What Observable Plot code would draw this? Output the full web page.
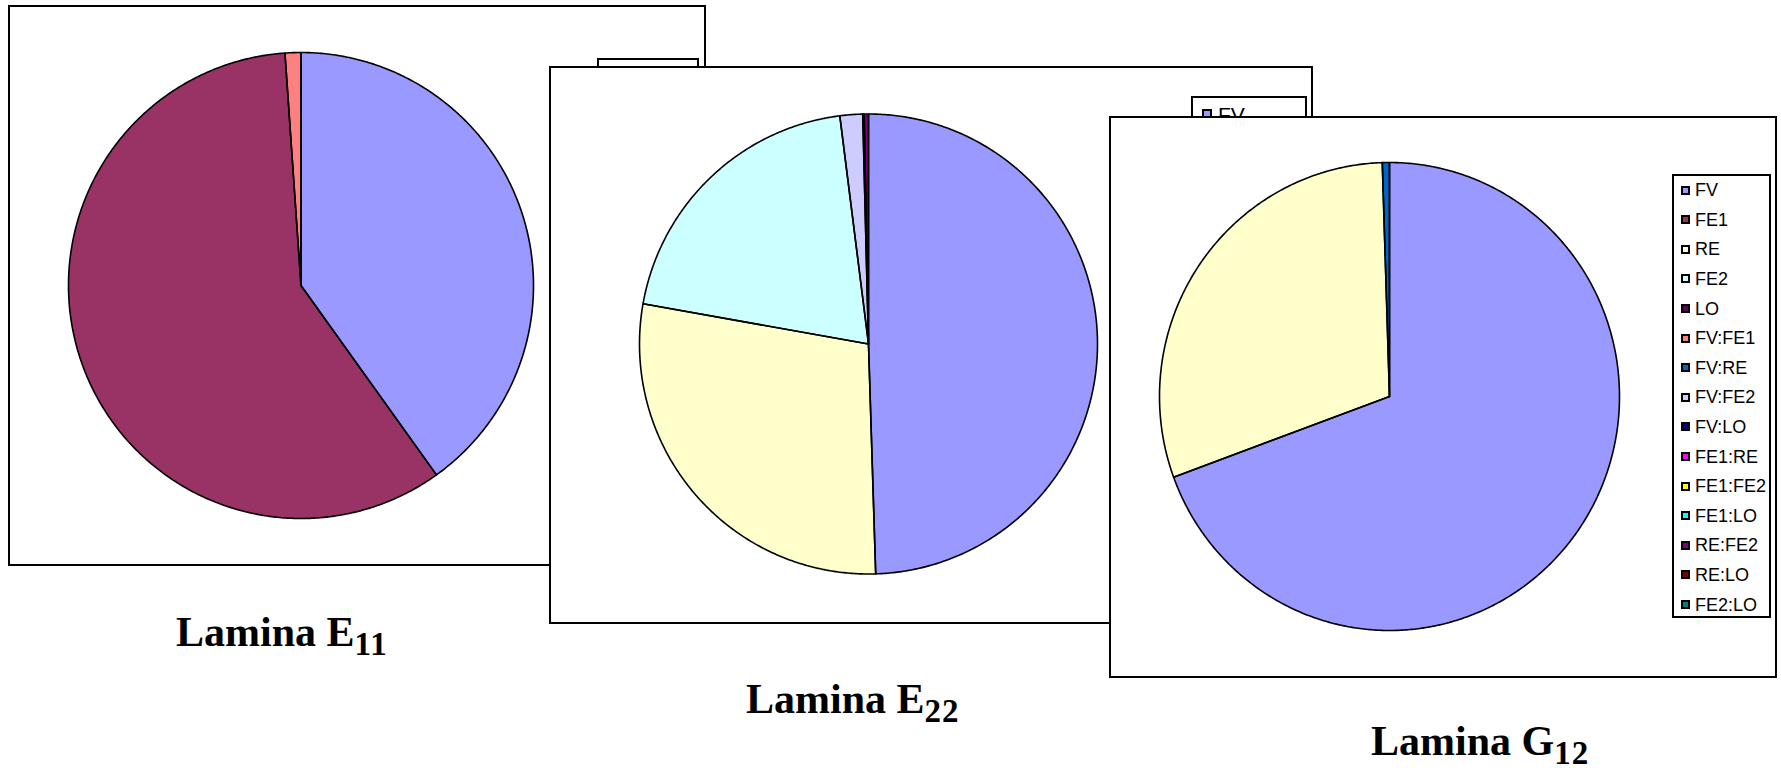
<!DOCTYPE html>
<html>
<head>
<meta charset="utf-8">
<script src="https://cdn.jsdelivr.net/npm/d3@7"></script>
<script src="https://cdn.jsdelivr.net/npm/@observablehq/plot@0.6"></script>
<style>
  html, body { margin: 0; padding: 0; background: #fff; }
  #stage { position: relative; width: 1781px; height: 771px; overflow: hidden; background: #fff; }
  .panel { position: absolute; box-sizing: border-box; border: 2px solid #000; background: #fff; }
  .panel svg { position: absolute; left: 0; top: 0; background: transparent; }
  .legend { position: absolute; box-sizing: border-box; border: 2px solid #000; background: #fff;
            font-family: "Liberation Sans", Arial, sans-serif; color: #000; }
  .legend .sw { position: absolute; box-sizing: border-box; border: 2px solid #000; }
  .legend .lb { position: absolute; white-space: nowrap; line-height: 1; }
  .title { position: absolute; font-family: "Liberation Serif", "Times New Roman", serif; font-weight: bold;
           font-size: 42px; line-height: 42px; white-space: nowrap; color: #000; }
  .title .sub { font-size: 33px; position: relative; top: 9px; letter-spacing: 1px; }
</style>
</head>
<body>
<div id="stage"></div>
<script>
// Categories of the variance decomposition (main effects and two-way interactions)
const categories = ["FV", "FE1", "RE", "FE2", "LO", "FV:FE1", "FV:RE", "FV:FE2", "FV:LO",
                    "FE1:RE", "FE1:FE2", "FE1:LO", "RE:FE2", "RE:LO", "FE2:LO"];
const palette = ["#9999FF", "#993366", "#FFFFCC", "#CCFFFF", "#660066", "#FF8080", "#0066CC", "#CCCCFF",
                 "#000080", "#FF00FF", "#FFFF00", "#00FFFF", "#800080", "#800000", "#008080"];

// Percentage contribution of each source, in category order
const e11Values = [40.1, 58.8, 0, 0, 0, 1.1, 0, 0, 0, 0, 0, 0, 0, 0, 0];
const e22Values = [49.5, 0, 28.3, 20.2, 0, 0, 0, 1.6, 0.1, 0, 0, 0, 0.3, 0, 0];
const g12Values = [69.4, 0, 30.1, 0, 0, 0, 0.5, 0, 0, 0, 0, 0, 0, 0, 0];

const titleText = ["Lamina E", "Lamina E", "Lamina G"];
const titleSub = ["11", "22", "12"];

// Page layout for each chart box: box, pie centre/radii (inside the box), legend box and scale
const panels = [
  { values: e11Values, left: 8, top: 5, w: 698, h: 561, cx: 290.5, cy: 278, rx: 232.5, ry: 233,
    legend: { left: 587, top: 51, w: 102, h: 458, s: 1.03 }, title: { left: 176, top: 611 } },
  { values: e22Values, left: 549, top: 66, w: 764, h: 558, cx: 317, cy: 275.5, rx: 229, ry: 230,
    legend: { left: 640, top: 28, w: 116, h: 520, s: 1.17 }, title: { left: 746, top: 678 } },
  { values: g12Values, left: 1109, top: 116, w: 668, h: 562, cx: 278, cy: 278, rx: 230, ry: 234,
    legend: { left: 561, top: 56, w: 99, h: 444, s: 1.0 }, title: { left: 1371, top: 720 } }
];

// Outline points of every non-empty slice, clockwise from 12 o'clock, on a unit circle
function slicePoints(values) {
  const rows = categories.map((name, i) => ({ name, value: values[i] })).filter(d => d.value > 0);
  const arcs = d3.pie().sort(null).value(d => d.value)(rows);
  const pts = [];
  for (const a of arcs) {
    const name = a.data.name;
    pts.push({ name, x: 0, y: 0 });
    const n = Math.max(2, Math.ceil((a.endAngle - a.startAngle) / (Math.PI / 360)));
    for (let i = 0; i <= n; i++) {
      const t = a.startAngle + (a.endAngle - a.startAngle) * i / n;
      pts.push({ name, x: Math.sin(t), y: Math.cos(t) });
    }
    pts.push({ name, x: 0, y: 0 });
  }
  return pts;
}

const stage = document.getElementById("stage");
const B = 2; // box border width

panels.forEach((p, k) => {
  const box = document.createElement("div");
  box.className = "panel";
  Object.assign(box.style, { left: p.left + "px", top: p.top + "px", width: p.w + "px", height: p.h + "px" });

  const pts = slicePoints(p.values);
  const chart = Plot.plot({
    width: p.w - 2 * B,
    height: p.h - 2 * B,
    margin: 0,
    style: { background: "transparent" },
    x: { domain: [-1, 1], range: [p.cx - p.rx, p.cx + p.rx], axis: null },
    y: { domain: [-1, 1], range: [p.cy + p.ry, p.cy - p.ry], axis: null },
    color: { domain: categories, range: palette },
    marks: [
      Plot.line(pts, { x: "x", y: "y", z: "name", fill: "name", stroke: "none", curve: "linear" }),
      Plot.line(pts, { x: "x", y: "y", z: "name", stroke: "#000", strokeWidth: 1.6,
                       strokeLinejoin: "round", curve: "linear" })
    ]
  });
  box.appendChild(chart);

  // Legend listing every category
  const L = p.legend, s = L.s;
  const lg = document.createElement("div");
  lg.className = "legend";
  Object.assign(lg.style, { left: L.left + "px", top: L.top + "px", width: L.w + "px", height: L.h + "px" });
  const fs = 18 * s, sw = 9 * s;
  categories.forEach((name, i) => {
    const yc = 16 * s + i * 29.6 * s - B;
    const sq = document.createElement("div");
    sq.className = "sw";
    Object.assign(sq.style, { left: (9 * s - B) + "px", top: (yc - sw / 2) + "px",
                              width: sw + "px", height: sw + "px", background: palette[i] });
    const lb = document.createElement("div");
    lb.className = "lb";
    lb.textContent = name;
    Object.assign(lb.style, { left: (23 * s - B) + "px", top: (yc - 0.488 * fs) + "px", fontSize: fs + "px" });
    lg.appendChild(sq);
    lg.appendChild(lb);
  });
  box.appendChild(lg);
  stage.appendChild(box);
});

// Chart titles under each box
panels.forEach((p, k) => {
  const t = document.createElement("div");
  t.className = "title";
  Object.assign(t.style, { left: p.title.left + "px", top: p.title.top + "px" });
  t.appendChild(document.createTextNode(titleText[k]));
  const sub = document.createElement("span");
  sub.className = "sub";
  sub.textContent = titleSub[k];
  t.appendChild(sub);
  stage.appendChild(t);
});
</script>
</body>
</html>
